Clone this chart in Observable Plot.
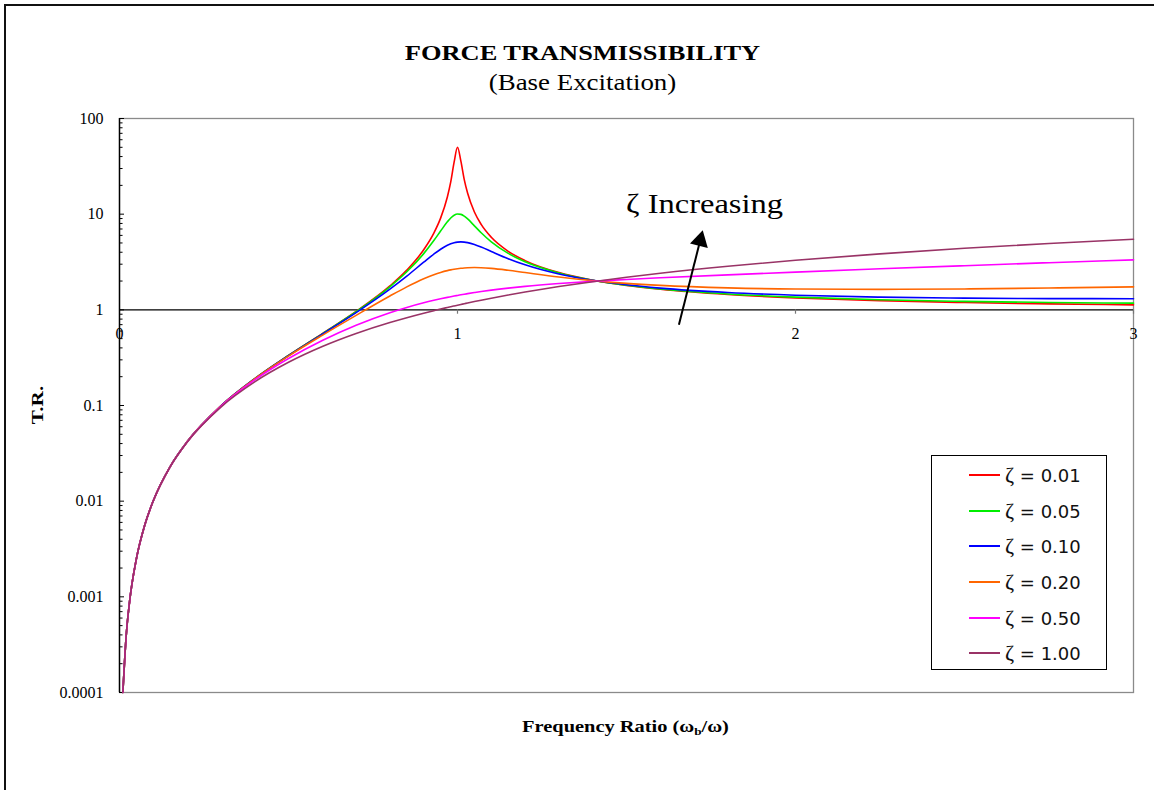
<!DOCTYPE html>
<html>
<head>
<meta charset="utf-8">
<script src="https://cdn.jsdelivr.net/npm/d3@7"></script>
<script src="https://cdn.jsdelivr.net/npm/@observablehq/plot@0.6"></script>
<style>
  html, body { margin: 0; padding: 0; background: #fff; }
  #wrap { position: relative; width: 1154px; height: 790px; overflow: hidden; background: #fff; }
  #outer { position: absolute; left: 4px; top: 4px; width: 1300px; height: 900px; border-left: 2px solid #111; border-top: 2px solid #111; }
  .serif { font-family: "Liberation Serif", "Times New Roman", serif; color: #000; }
  #title { position: absolute; left: 0; width: 1165px; top: 42px; text-align: center; font-size: 22px; font-weight: bold; line-height: 22px; transform: scaleX(1.2); }
  #subtitle { position: absolute; left: 0; width: 1165px; top: 71px; text-align: center; font-size: 23px; line-height: 23px; transform: scaleX(1.17); }
  #xlabel { position: absolute; left: 0; width: 1251px; top: 718px; text-align: center; font-size: 17px; font-weight: bold; line-height: 17px; transform: scaleX(1.2); }
  #ylabel { position: absolute; left: 37px; top: 405px; transform: translate(-50%, -50%) rotate(-90deg) scaleX(1.25); font-size: 17px; font-weight: bold; line-height: 17px; white-space: nowrap; }
  #chart { position: absolute; left: 0; top: 0; }
  #legend { position: absolute; left: 931px; top: 455px; width: 174px; height: 212px; border: 1px solid #000; background: #fff; padding-top: 1px; box-sizing: content-box; }
  .row { position: relative; height: 35.66px; }
  .swatch { position: absolute; left: 37px; width: 31px; top: 17px; height: 2px; }
  .lab { position: absolute; left: 73px; top: 0; line-height: 35.66px; font-family: "DejaVu Sans", sans-serif; font-size: 18px; color: #111; white-space: nowrap; }
  .lab .z { font-family: "Liberation Serif", serif; font-size: 22px; }
</style>
</head>
<body>
<div id="wrap">
  <div id="outer"></div>
  <div id="chart"></div>
  <div id="title" class="serif">FORCE TRANSMISSIBILITY</div>
  <div id="subtitle" class="serif">(Base Excitation)</div>
  <div id="xlabel" class="serif">Frequency Ratio (ω<sub style="font-size:11px;vertical-align:-3px;">b</sub>/ω)</div>
  <div id="ylabel" class="serif">T.R.</div>
  <div id="legend"></div>
</div>
<script>
// ---- Data ----
const freqRatio = [0.01,0.02,0.03,0.05,0.075,0.1,0.15,0.2,0.3,0.4,0.5,0.6,0.7,0.8,0.85,0.9,0.93,0.95,0.97,0.98,0.99,1.0,1.01,1.02,1.03,1.05,1.07,1.1,1.15,1.2,1.3,1.4,1.5,1.6,1.8,2.0,2.25,2.5,2.75,3.0];

const trZeta001 = [0.0001,0.0004,0.0009,0.0025,0.00566,0.0101,0.0230,0.0417,0.0989,0.1905,0.3333,0.5625,0.9605,1.776,2.599,4.245,6.343,9.087,15.13,21.74,34.92,50.01,35.80,22.99,16.51,10.54,7.818,5.732,4.091,3.269,2.448,2.042,1.800,1.642,1.447,1.334,1.247,1.192,1.154,1.127];
const trZeta005 = [0.0001,0.0004,0.0009,0.0025,0.00566,0.0101,0.0230,0.0417,0.0989,0.1904,0.3330,0.5611,0.9542,1.741,2.498,3.868,5.296,6.660,8.322,9.130,9.753,10.05,9.956,9.532,8.913,7.555,6.392,5.135,3.888,3.180,2.427,2.040,1.807,1.653,1.465,1.357,1.275,1.226,1.194,1.174];
const trZeta010 = [0.0001,0.0004,0.0009,0.0025,0.00566,0.0101,0.0230,0.0417,0.0989,0.1902,0.3321,0.5568,0.9356,1.645,2.252,3.145,3.827,4.302,4.726,4.894,5.021,5.099,5.127,5.106,5.042,4.821,4.530,4.074,3.426,2.955,2.368,2.035,1.827,1.688,1.518,1.423,1.358,1.325,1.311,1.308];
const trZeta020 = [0.0001,0.0004,0.0009,0.0025,0.00566,0.0101,0.0230,0.0417,0.0988,0.1895,0.3285,0.5416,0.8746,1.395,1.739,2.115,2.332,2.461,2.571,2.618,2.659,2.693,2.720,2.741,2.755,2.766,2.756,2.711,2.591,2.453,2.205,2.021,1.892,1.803,1.697,1.650,1.637,1.654,1.690,1.738];
const trZeta050 = [0.0001,0.0004,0.0009,0.0025,0.00566,0.0101,0.0230,0.0416,0.0981,0.1852,0.3101,0.4786,0.6906,0.9343,1.060,1.185,1.257,1.304,1.349,1.371,1.393,1.414,1.435,1.456,1.476,1.515,1.553,1.606,1.687,1.760,1.883,1.986,2.077,2.162,2.322,2.481,2.684,2.894,3.110,3.331];
const trZeta100 = [0.0001,0.0004,0.0009,0.0025,0.00566,0.0101,0.0230,0.0414,0.0963,0.1766,0.2828,0.4135,0.5658,0.7363,0.8273,0.9215,0.9794,1.019,1.058,1.078,1.098,1.118,1.138,1.158,1.179,1.220,1.261,1.323,1.428,1.534,1.750,1.969,2.189,2.411,2.855,3.298,3.849,4.396,4.937,5.474];

const seriesLabels = ["ζ = 0.01","ζ = 0.05","ζ = 0.10","ζ = 0.20","ζ = 0.50","ζ = 1.00"];
const seriesColors = ["#ff0000","#00ee00","#0000ff","#ff6600","#ff00ff","#993366"];
const seriesValues = [trZeta001, trZeta005, trZeta010, trZeta020, trZeta050, trZeta100];

const yTickValues = [100, 10, 1, 0.1, 0.01, 0.001, 0.0001];
const yTickLabels = ["100","10","1","0.1","0.01","0.001","0.0001"];
const xTickValues = [0, 1, 2, 3];
const xTickLabels = ["0","1","2","3"];

const annotationText = ["ζ Increasing"];
const annotationX = [1.731];
const annotationY = [12.8];
const arrowTail = {x: 1.655, y: 0.70};
const arrowHead = {x: 1.718, y: 5.3};

// ---- Build table ----
const rows = seriesValues.flatMap((vals, i) =>
  freqRatio.map((x, j) => ({x, tr: vals[j], zeta: seriesLabels[i]})));

const yMinor = [];
for (let e = -4; e < 2; e++) for (let m = 2; m <= 9; m++) yMinor.push(m * Math.pow(10, e));

const chart = Plot.plot({
  width: 1154,
  height: 790,
  marginTop: 118,
  marginBottom: 98,
  marginLeft: 119,
  marginRight: 21,
  x: {domain: [0, 3], axis: null},
  y: {type: "log", domain: [0.0001, 100], axis: null},
  color: {domain: seriesLabels, range: seriesColors},
  style: {fontFamily: "'Liberation Serif', 'Times New Roman', serif", fontSize: "16px", background: "transparent", color: "#000"},
  marks: [
    Plot.frame({stroke: "#8a8a8a", strokeWidth: 1.3}),
    Plot.ruleY([1], {stroke: "#000", strokeWidth: 1.2}),
    Plot.ruleX(xTickValues.slice(1), {x: d => d, y1: 1, y2: 0.9, stroke: "#777", strokeWidth: 1.2}),
    Plot.ruleY(yMinor, {y: d => d, x1: 0, x2: 0.0105, stroke: "#000", strokeWidth: 1}),
    Plot.ruleY(yTickValues, {y: d => d, x1: 0, x2: 0.0148, stroke: "#000", strokeWidth: 1}),
    Plot.ruleX([0], {stroke: "#000", strokeWidth: 1.4}),
    Plot.text(yTickValues, {x: 0, y: d => d, text: (d, i) => yTickLabels[i], textAnchor: "end", dx: -16, fontSize: 16}),
    Plot.text(xTickValues, {x: d => d, y: 1, text: (d, i) => xTickLabels[i], dy: 24, fontSize: 16}),
    Plot.line(rows, {x: "x", y: "tr", z: "zeta", stroke: "zeta", strokeWidth: 1.6, curve: "monotone-x"}),
    Plot.text(annotationText, {x: (d, i) => annotationX[i], y: (d, i) => annotationY[i], text: d => d, fontSize: 27, textAnchor: "middle", className: "annot"}),
    Plot.link([arrowTail], {x1: arrowTail.x, y1: arrowTail.y, x2: arrowHead.x, y2: arrowHead.y, stroke: "#000", strokeWidth: 2}),
    Plot.dot([arrowHead], {x: "x", y: "y", symbol: "triangle", r: 6.8, fill: "#000", stroke: "none", rotate: 14})
  ]
});
document.getElementById("chart").appendChild(chart);
// stretch the annotation text horizontally like the original
d3.select(chart).selectAll(".annot text")
  .attr("textLength", 157)
  .attr("lengthAdjust", "spacingAndGlyphs");

// ---- Legend ----
const legend = document.getElementById("legend");
seriesLabels.forEach((lab, i) => {
  const row = document.createElement("div");
  row.className = "row";
  const sw = document.createElement("div");
  sw.className = "swatch";
  sw.style.background = seriesColors[i];
  const t = document.createElement("div");
  t.className = "lab";
  const parts = lab.split(" = ");
  t.innerHTML = '<span class="z">ζ</span> = ' + parts[1];
  row.appendChild(sw);
  row.appendChild(t);
  legend.appendChild(row);
});
</script>
</body>
</html>
